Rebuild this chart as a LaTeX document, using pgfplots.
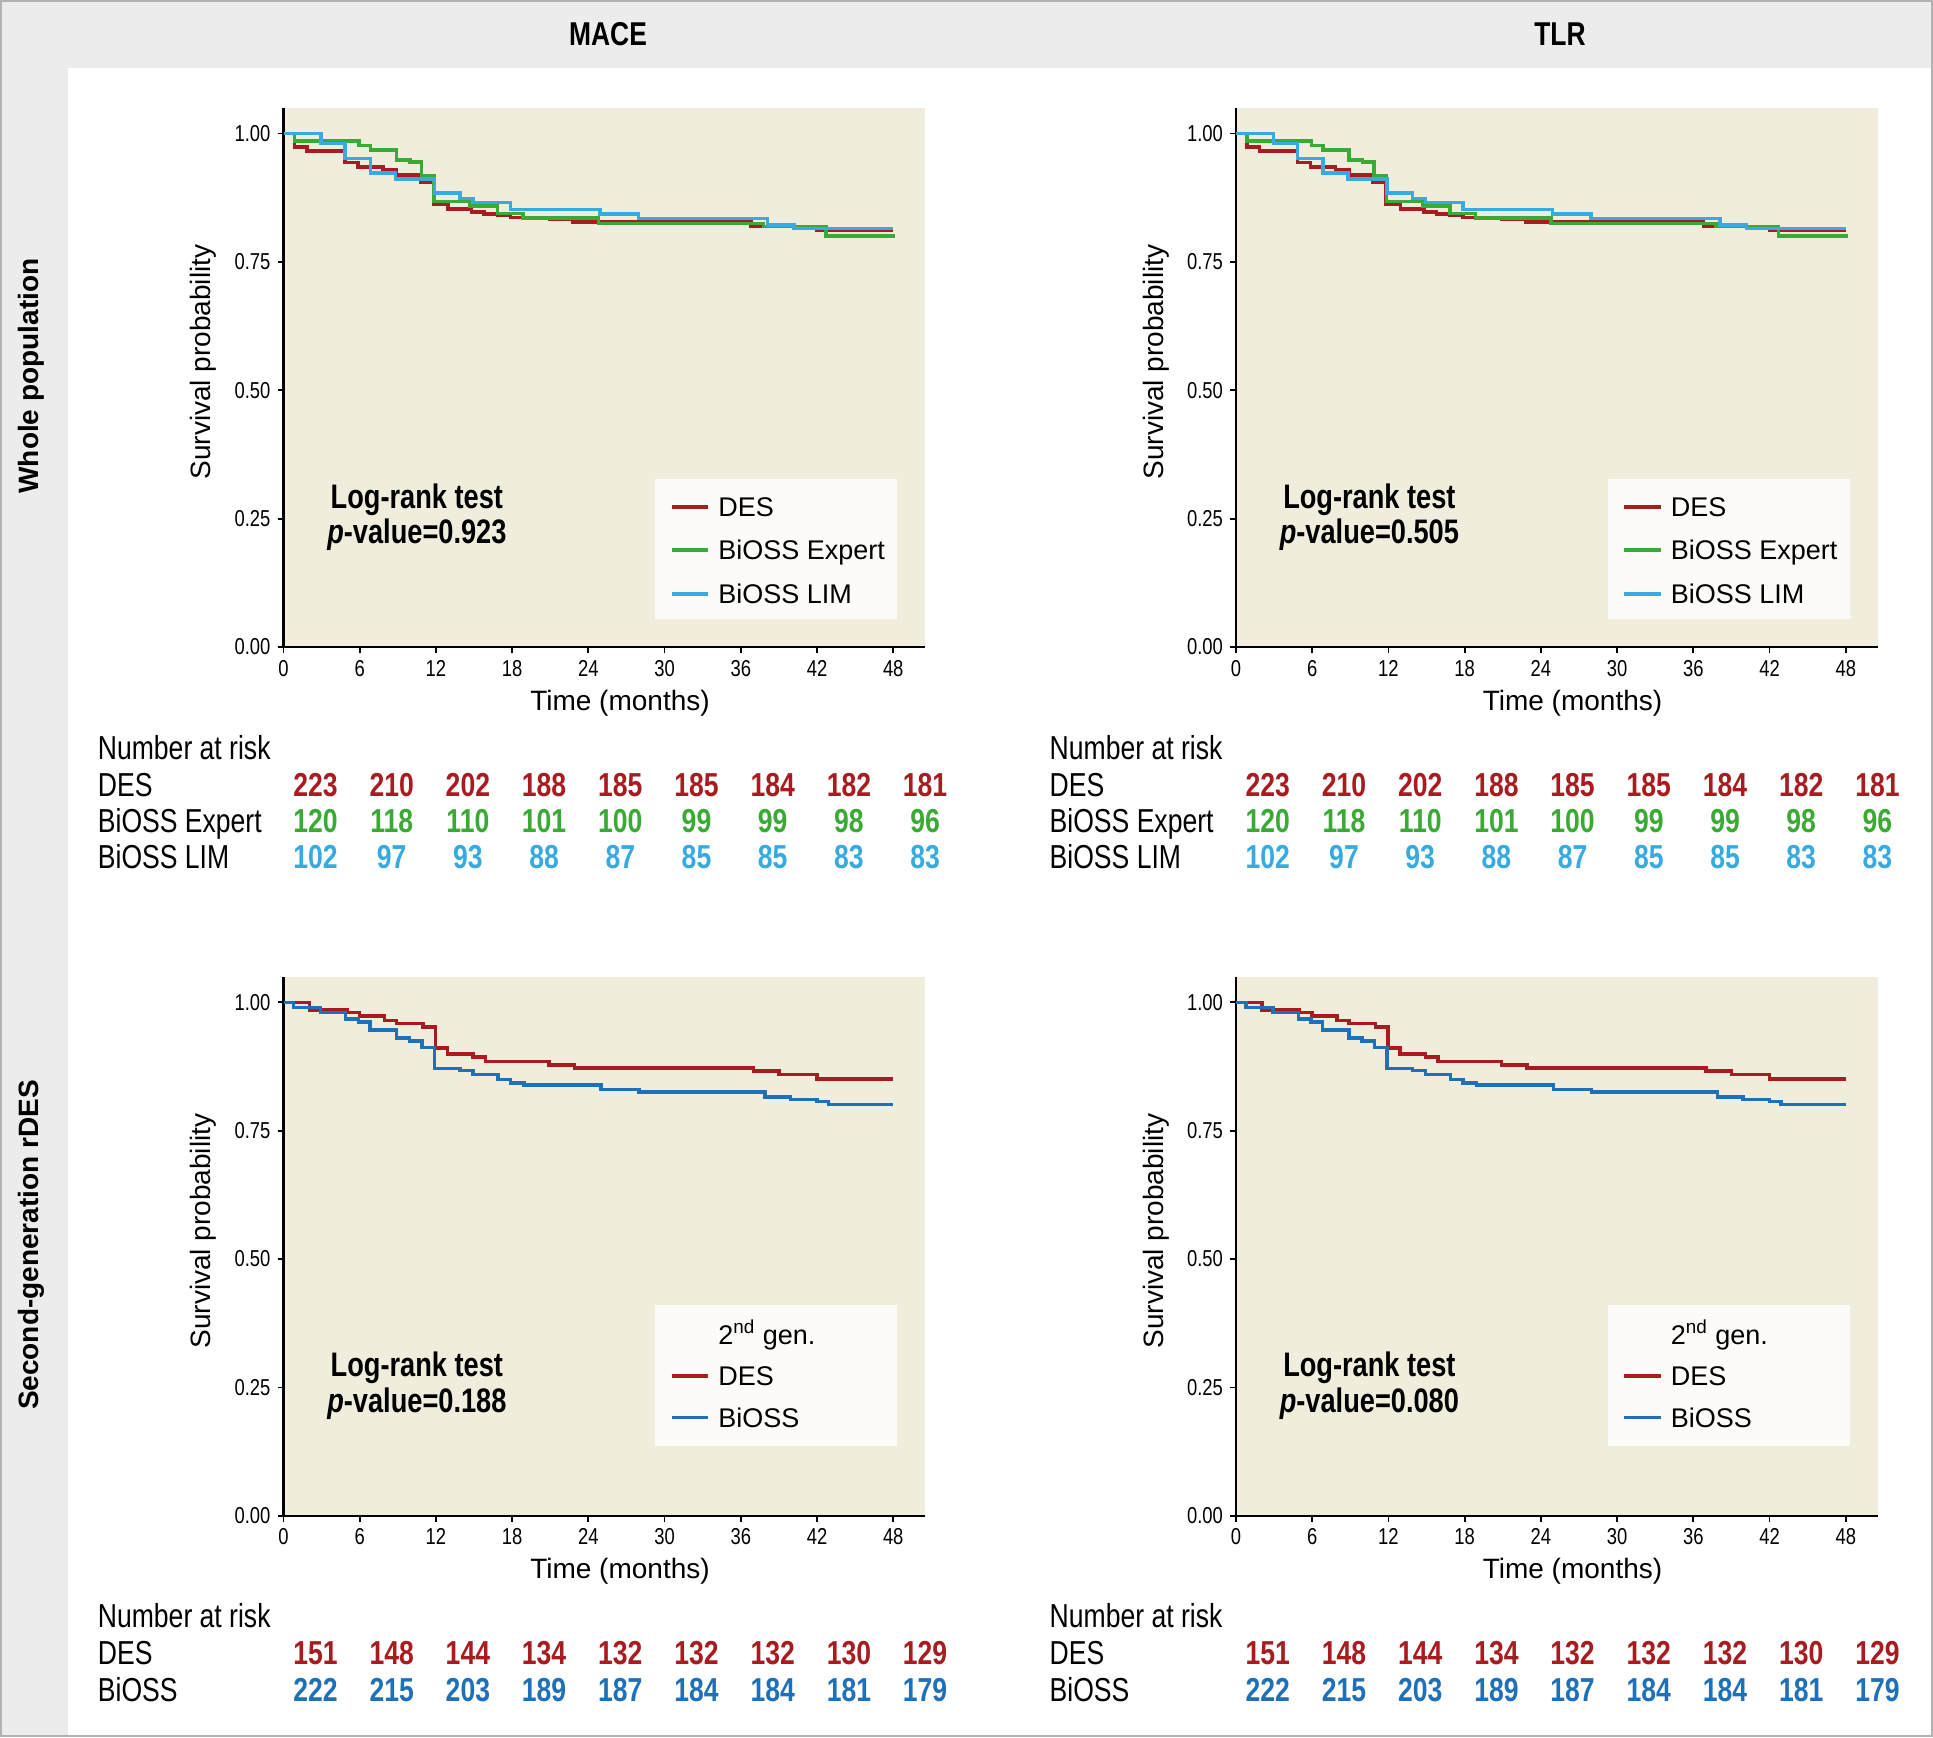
\documentclass[border=0pt]{standalone}
\usepackage{pgfplots}
\usepackage{pgfplotstable}
\pgfplotsset{compat=1.18}
\usepackage{fontspec}
\setmainfont{Liberation Sans}
\newfontfamily\cond{Liberation Sans}[FakeStretch=0.8]

\definecolor{desred}{RGB}{168,28,32}
\definecolor{expgreen}{RGB}{58,170,53}
\definecolor{limblue}{RGB}{54,170,225}
\definecolor{biossblue}{RGB}{30,112,185}
\definecolor{panelbg}{RGB}{241,237,220}
\definecolor{legbg}{RGB}{252,251,247}
\definecolor{bandgray}{RGB}{236,236,236}
\definecolor{framegray}{RGB}{178,178,178}

\newcommand\tickfont{\cond\fontsize{11.5}{13}\selectfont}
\newcommand\tabfont{\cond\fontsize{16.6}{19}\selectfont}
\newcommand\lrfont{\cond\bfseries\fontsize{17}{19}\selectfont}
\newcommand\legfont{\fontsize{13.5}{16}\selectfont}

% Kaplan-Meier steps, whole population (same curves in both columns)
\pgfplotstableread{
t s
0 1
0.85 0.974
1.85 0.966
4.85 0.943
5.85 0.935
7.85 0.929
8.9 0.919
10.8 0.906
11.8 0.862
12.95 0.853
14.8 0.847
15.8 0.843
16.85 0.840
17.85 0.836
20.95 0.833
22.8 0.828
36.8 0.819
42.0 0.8125
48 0.8125
}\topdes
\pgfplotstableread{
t s
0 1
0.85 0.985
5.95 0.977
6.85 0.968
8.9 0.948
9.95 0.944
10.85 0.918
11.85 0.868
14.7 0.859
16.85 0.844
18.85 0.835
24.8 0.825
37.8 0.819
42.7 0.800
48 0.797
}\topexp
\pgfplotstableread{
t s
0 1
2.95 0.980
4.85 0.951
6.85 0.923
8.8 0.911
11.9 0.884
13.9 0.873
14.9 0.866
17.85 0.852
24.9 0.843
27.95 0.834
38.1 0.822
40.2 0.815
48 0.815
}\toplim
% second-generation rDES
\pgfplotstableread{
t s
0 1
2.05 0.985
5.0 0.980
6.0 0.973
7.95 0.965
8.9 0.959
11.0 0.952
11.95 0.911
12.9 0.899
14.9 0.893
15.9 0.885
20.9 0.878
22.9 0.872
37.0 0.866
39.0 0.859
42.0 0.851
48 0.851
}\botdes
\pgfplotstableread{
t s
0 1
0.8 0.990
2.9 0.980
4.9 0.967
5.9 0.962
6.8 0.946
8.9 0.930
9.9 0.925
10.9 0.912
11.9 0.871
13.9 0.867
14.9 0.859
16.9 0.850
17.85 0.843
18.95 0.839
25.0 0.830
28.0 0.825
37.9 0.816
39.9 0.811
42.0 0.807
42.9 0.801
48 0.801
}\botbioss

\pgfplotsset{
  km/.style={
    scale only axis, width=320.75pt, height=269.35pt,
    anchor=south west,
    xmin=0, xmax=50.5, ymin=0, ymax=1.049,
    axis x line*=bottom, axis y line*=left,
    axis line style={-, line width=1.2pt},
    tick align=outside, major tick length=3pt,
    tick style={black, line width=0.9pt},
    xtick={0,6,12,18,24,30,36,42,48},
    xticklabels={0,6,12,18,24,30,36,42,48},
    ytick={0,0.25,0.5,0.75,1},
    yticklabels={0.00,0.25,0.50,0.75,1.00},
    ticklabel style={font=\tickfont},
    axis background/.style={fill=panelbg},
    legend cell align=left,
    legend image code/.code={\draw[##1] (0pt,0pt) -- (18.3pt,0pt);},
    legend style={draw=none, fill=none, font=\legfont, anchor=north west,
      inner sep=0pt, row sep=12.1pt, nodes={inner sep=0pt, text depth=0pt},
      /tikz/every odd column/.append style={column sep=4.2pt}},
  },
  kmline/.style={const plot, line width=1.75pt, mark=none},
}

\begin{document}
\begin{tikzpicture}
\useasboundingbox (0,0) rectangle (966.5pt,-868.5pt);
\fill[white] (0,0) rectangle (966.5pt,-868.5pt);
\fill[bandgray] (0,0) rectangle (966.5pt,-34pt);
\fill[bandgray] (0,0) rectangle (34pt,-868.5pt);
\draw[framegray, line width=1pt] (0.5pt,-0.5pt) rectangle (966pt,-868pt);

\node[font=\cond\bfseries\fontsize{16.5}{18}\selectfont] at (304pt,-17.25pt) {MACE};
\node[font=\cond\bfseries\fontsize{16.5}{18}\selectfont] at (780pt,-17.25pt) {TLR};
\node[font=\bfseries\fontsize{14}{16}\selectfont, rotate=90] at (15.5pt,-188pt) {Whole population};
\node[font=\bfseries\fontsize{14}{16}\selectfont, rotate=90] at (15.5pt,-622.5pt) {Second-generation rDES};

% ---- top left: MACE, whole population
\begin{axis}[km, at={(141.75pt,-323.5pt)},
  legend style={at={(axis cs:29.25,0.328)}, xshift=7.2pt, yshift=-9.2pt}]
  \fill[legbg] (axis cs:29.25,0.054) rectangle (axis cs:48.3,0.328);
  \addplot[kmline, desred] table {\topdes};
  \addplot[kmline, expgreen] table {\topexp};
  \addplot[kmline, limblue] table {\toplim};
  \legend{DES, BiOSS Expert, BiOSS LIM}
  \node[font=\lrfont, anchor=base] at (axis cs:10.5,0.270) {Log-rank test};
  \node[font=\lrfont, anchor=base] at (axis cs:10.5,0.201) {\textit{p}-value=0.923};
\end{axis}

% ---- top right: TLR, whole population
\begin{axis}[km, at={(618pt,-323.5pt)},
  legend style={at={(axis cs:29.25,0.328)}, xshift=7.2pt, yshift=-9.2pt}]
  \fill[legbg] (axis cs:29.25,0.054) rectangle (axis cs:48.3,0.328);
  \addplot[kmline, desred] table {\topdes};
  \addplot[kmline, expgreen] table {\topexp};
  \addplot[kmline, limblue] table {\toplim};
  \legend{DES, BiOSS Expert, BiOSS LIM}
  \node[font=\lrfont, anchor=base] at (axis cs:10.5,0.270) {Log-rank test};
  \node[font=\lrfont, anchor=base] at (axis cs:10.5,0.201) {\textit{p}-value=0.505};
\end{axis}

% ---- bottom left: MACE, second generation
\begin{axis}[km, at={(141.75pt,-757.9pt)},
  legend style={at={(axis cs:29.25,0.411)}, xshift=7.2pt, yshift=-7.4pt, row sep=11.2pt}]
  \fill[legbg] (axis cs:29.25,0.136) rectangle (axis cs:48.3,0.411);
  \addlegendimage{empty legend}
  \addlegendentry{2\textsuperscript{nd} gen.}
  \addplot[kmline, desred] table {\botdes};
  \addlegendentry{DES}
  \addplot[kmline, biossblue] table {\botbioss};
  \addlegendentry{BiOSS}
  \node[font=\lrfont, anchor=base] at (axis cs:10.5,0.272) {Log-rank test};
  \node[font=\lrfont, anchor=base] at (axis cs:10.5,0.202) {\textit{p}-value=0.188};
\end{axis}

% ---- bottom right: TLR, second generation
\begin{axis}[km, at={(618pt,-757.9pt)},
  legend style={at={(axis cs:29.25,0.411)}, xshift=7.2pt, yshift=-7.4pt, row sep=11.2pt}]
  \fill[legbg] (axis cs:29.25,0.136) rectangle (axis cs:48.3,0.411);
  \addlegendimage{empty legend}
  \addlegendentry{2\textsuperscript{nd} gen.}
  \addplot[kmline, desred] table {\botdes};
  \addlegendentry{DES}
  \addplot[kmline, biossblue] table {\botbioss};
  \addlegendentry{BiOSS}
  \node[font=\lrfont, anchor=base] at (axis cs:10.5,0.272) {Log-rank test};
  \node[font=\lrfont, anchor=base] at (axis cs:10.5,0.202) {\textit{p}-value=0.080};
\end{axis}

% axis titles
\foreach \xl/\yt/\yb in {141.75/-181/-351.5, 618/-181/-351.5, 141.75/-615.5/-785.7, 618/-615.5/-785.7} {
  \node[font=\fontsize{14}{16}\selectfont, rotate=90] at (\xl pt-40pt,\yt pt) {Survival probability};
  \node[font=\fontsize{14}{16}\selectfont] at (\xl pt+168.25pt,\yb pt) {Time (months)};
}

% numbers at risk
\foreach \x in {48.75, 524.65} {
  \begin{scope}[every node/.style={font=\tabfont, anchor=base west, inner sep=0pt}]
  \node at (\x pt,-379.6pt) {Number at risk};
  \node at (\x pt,-398.35pt) {DES};
  \node at (\x pt,-416.1pt) {BiOSS Expert};
  \node at (\x pt,-434.1pt) {BiOSS LIM};
  \node at (\x pt,-813.6pt) {Number at risk};
  \node at (\x pt,-832.1pt) {DES};
  \node at (\x pt,-850.6pt) {BiOSS};
  \end{scope}
}
\foreach \xs in {157.75, 633.9} {
  \foreach \n [count=\k from 0] in {223,210,202,188,185,185,184,182,181}
    \node[font=\tabfont\bfseries, text=desred, anchor=base] at (\xs pt+38.1pt*\k,-398.35pt) {\n};
  \foreach \n [count=\k from 0] in {120,118,110,101,100,99,99,98,96}
    \node[font=\tabfont\bfseries, text=expgreen, anchor=base] at (\xs pt+38.1pt*\k,-416.1pt) {\n};
  \foreach \n [count=\k from 0] in {102,97,93,88,87,85,85,83,83}
    \node[font=\tabfont\bfseries, text=limblue, anchor=base] at (\xs pt+38.1pt*\k,-434.1pt) {\n};
  \foreach \n [count=\k from 0] in {151,148,144,134,132,132,132,130,129}
    \node[font=\tabfont\bfseries, text=desred, anchor=base] at (\xs pt+38.1pt*\k,-832.1pt) {\n};
  \foreach \n [count=\k from 0] in {222,215,203,189,187,184,184,181,179}
    \node[font=\tabfont\bfseries, text=biossblue, anchor=base] at (\xs pt+38.1pt*\k,-850.6pt) {\n};
}
\end{tikzpicture}
\end{document}
